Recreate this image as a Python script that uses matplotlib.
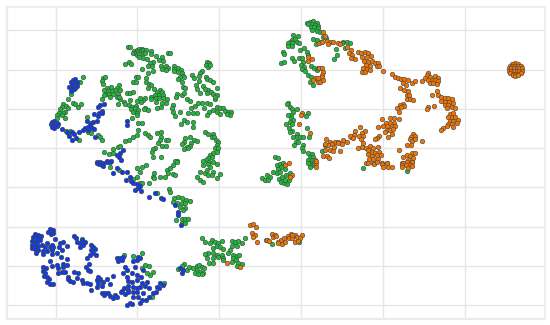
import numpy as np
import matplotlib
matplotlib.use("Agg")
import matplotlib.pyplot as plt

# Values; no axis labels exist, so the unit is arbitrary.
# Each panel list was read in its own window of the plane, given by these origins.
ORIGIN_NW = (0, 0)
ORIGIN_NE = (825, 0)
ORIGIN_SW = (0, 480)
ORIGIN_SE = (825, 480)

xgrid = [167, 412, 658, 904, 1148, 1394]
ygrid = [91, 209, 327, 445, 562, 680, 798, 916]

green_nw = [(383,141),(390,140),(403,152),(410,150),(418,147),(425,147),(400,158),(408,158),(415,155),(422,153),(430,150),(438,150),(452,152),(410,165),(418,162),(428,158),(436,158),(454,162),(467,167),(505,158),(510,158),(416,172),(430,173),(442,176),(485,172),(478,180),(490,183),(376,191),(388,186),(392,192),(458,185),(450,190),(444,197),(455,197),(483,197),(497,197),(503,203),(485,207),(497,209),(427,207),(458,213),(444,219),(521,197),(522,207),(523,214),(535,205),(543,210),(533,217),(545,220),(548,228),(552,232),(540,232),(533,238),(545,245),(548,262),(556,264),(530,282),(527,292),(545,285),(551,280),
(622,186),(627,190),(618,195),(625,200),(630,195),(607,214),(600,220),(577,225),(583,235),(596,228),(618,230),(620,238),(630,240),(640,246),(597,243),(588,254),(592,268),(610,258),(625,270),(614,268),(620,280),(632,275),(640,283),(650,263),(650,284),(646,298),(600,280),(645,290),
(407,230),(414,232),(400,245),(408,247),(437,235),(438,247),(446,252),(452,255),(443,265),(463,267),(480,270),(472,275),(485,275),(488,285),(475,285),(465,285),(468,295),(478,295),(490,295),(500,298),(468,305),(487,310),(497,308),(482,320),(470,325),
(452,290),(452,298),(436,295),(428,300),(422,305),(412,303),(420,295),(380,280),(390,280),(400,277),
(360,298),(372,305),(355,312),(375,312),(390,300),(388,315),(395,320),(408,318),(392,328),(405,325),(415,330),(400,335),(410,340),(395,353),(412,345),(435,325),(432,328),(445,330),(415,368),(427,368),(414,390),(411,405),(398,410),(387,420),(375,422),(353,440),(340,446),(360,437),(340,458),(328,463),(313,457),(435,400),(443,405),(450,410),
(308,235),(315,230),(305,242),(310,252),(320,265),(333,260),(358,256),(352,265),(345,270),(360,270),(335,272),(325,272),(312,270),(318,283),(328,283),(340,282),(355,282),(305,296),(312,285),(350,292),(330,290),(358,292),
(520,314),(517,325),(520,335),(525,348),(540,335),(553,360),(560,365),(578,365),(542,372),(580,380),(565,340),(580,340),(590,340),(574,325),(586,318),(595,308),(607,310),(620,310),(630,313),(612,323),(628,335),(622,345),(640,330),(650,322),(660,325),(650,335),(660,342),(670,325),(675,332),(683,335),(692,337),(690,345),(680,342),(560,297),(570,302),
(484,395),(472,398),(497,420),(483,410),(503,420),(480,420),(475,430),(487,437),(497,438),
(615,397),(623,402),(640,402),(635,410),(642,412),(648,420),(655,425),(650,435),(645,445),(655,445),(650,455),(640,460),(630,465),(625,475),(635,472),(618,480),(610,483),(628,487),(640,485),
(555,415),(570,412),(582,420),(592,422),(552,425),(545,433),(573,428),(560,440),(570,438),(552,448),(565,445),
(465,443),(458,448),(455,455),(460,470),(483,470),(530,483),(525,483),
(250,232),(240,245),(232,250),(225,263),(215,270),(212,283),(203,296),(218,310),(226,312),(235,320),(242,312),(190,312),(197,318),(185,322),(180,328),(205,325),(195,335),(190,340),(178,340),(172,345),(185,345),(195,355),(170,355),
(262,350),(265,395),(272,398),(295,405),(300,412),(305,420),(237,420),(210,392),(197,392),(203,400)]

blue_nw = [(218,240),(225,238),(212,245),(230,245),(222,250),(215,255),(208,262),(215,265),(222,268),(230,258),(212,272),
(300,316),(312,312),(295,320),(305,333),(282,342),(297,340),(305,338),(295,348),(262,362),(280,367),(290,362),(272,368),(270,375),(265,380),(277,383),(255,385),(282,388),(265,390),(248,390),(236,395),(380,362),(380,376),(187,388),(200,395),(215,397),(222,402),(207,408),(215,420),(227,413),(284,410),
(155,365),(163,363),(172,368),(152,372),(160,375),(170,378),(155,382),(163,385),(175,372),
(370,450),(360,458),(352,465),(358,472),(362,480),(300,487),(310,488),(320,483),(333,483),(292,487)]

green_ne = [(95,68),(105,65),(115,62),(125,68),(100,72),(110,72),(120,75),(130,78),(108,80),(118,82),(128,85),(112,90),(125,92),(135,95),(145,110),(153,115),(115,117),(125,120),(122,132),(138,127),
(55,105),(70,108),(50,120),(60,118),(45,125),(38,130),(52,130),(65,125),(72,130),(40,138),(50,138),(75,150),(88,145),(95,155),(25,155),(28,163),(18,188),(27,186),(52,175),(58,182),(72,175),(80,175),(100,165),(85,185),(78,195),(88,200),(108,198),(118,205),(82,208),(90,212),(125,210),(100,225),(108,230),(105,245),(115,255),(128,205),
(205,125),(215,125),(225,130),(210,143),(183,148),(185,165),(178,178),(200,128),
(40,308),(35,312),(45,320),(50,328),(55,335),(65,328),(48,345),(40,345),(100,340),(92,348),(48,355),(55,360),(32,372),(45,365),(52,372),(42,385),(50,392),(45,395),(95,385),(65,403),(55,412),(65,412),(75,410),(85,410),(102,410),(62,425),(70,425),(58,435),(85,435),(82,445),(85,452),(100,458),(110,462),(105,470),(115,470),(100,480),(110,480),(105,490),(0,470),(8,475),
(140,452),(150,435)]

orange_ne = [(145,95),(150,108),(133,128),(140,127),(155,122),(165,125),(175,125),(160,132),(190,128),(195,133),(215,140),(228,150),(222,160),(232,165),(228,175),(240,178),(250,155),(258,158),(270,157),(280,160),(288,167),(262,170),(275,172),(268,182),(278,185),(290,183),(272,195),(285,197),(265,205),(275,207),(285,210),(260,217),(270,215),(300,190),(310,188),(305,198),(312,197),(325,212),
(352,223),(360,230),(368,235),(378,238),(388,238),(400,240),(410,250),(420,242),(442,243),(383,250),(375,265),(392,255),(388,270),(400,272),(395,285),(403,285),(395,298),(405,297),(415,300),(385,312),(375,315),(388,318),(365,325),(378,322),(372,335),
(460,218),(455,225),(465,230),(450,235),(480,228),(490,235),(458,240),(470,240),(480,240),(490,242),(465,248),(475,250),(485,252),
(485,272),(472,285),(490,285),(497,290),(498,303),(510,295),(520,295),(530,298),(510,305),(522,305),(535,310),(510,315),(520,315),(530,320),(540,325),(515,325),(460,322),(455,328),(478,318),
(525,343),(535,340),(520,352),(530,350),(540,352),(548,360),(525,362),(535,362),(520,372),(530,372),(545,370),(535,380),(515,378),(505,385),(498,390),
(322,356),(345,355),(358,355),(373,357),(332,370),(345,368),(358,368),(325,378),(337,378),(350,378),(360,378),(310,382),(335,390),(345,390),(355,388),(330,397),(350,402),(340,412),(312,408),(305,413),(300,417),
(255,380),(270,393),(262,398),(240,392),(252,408),(265,408),(258,418),(238,405),(228,410),(225,408),(235,415),
(153,418),(165,425),(180,425),(190,425),(205,420),(215,425),(200,432),(188,430),(170,432),(160,435),(150,432),(178,440),(165,450),(175,452),(150,450),(195,452),(145,467),(155,467),(163,475),
(415,403),(408,410),(420,408),(405,418),(412,422),(420,418),(395,435),(407,435),(440,422),(373,449),
(265,430),(250,443),(260,440),(272,443),(285,438),(295,445),(310,440),(280,450),(290,455),(300,458),(312,455),(278,462),(290,468),(305,465),(318,465),(283,478),(295,478),(310,478),(272,490),(295,490),(320,490),(335,488),
(410,458),(420,460),(395,465),(405,468),(415,475),(385,472),(400,480),(410,485),(380,488),(390,490),(400,492),
(80,340),(78,345),(72,372),(105,398),(110,178),(100,183),(132,205),(140,205),(145,215),(140,225),(120,235),(130,235),(140,232),(115,240),(128,245),(135,245),(143,240),(100,170),(120,480),(122,488)]

orange_far_cluster = [(721,190),(712,191),(730,191),(704,197),(713,198),(721,198),(729,198),(738,197),(701,205),(709,205),(717,205),(725,205),(733,205),(741,205),(701,213),(709,213),(717,213),(725,213),(733,213),(741,213),(705,220),(713,221),(721,221),(729,221),(737,220),(713,226),(721,227),(729,226)]

green_se = [(5,15),(15,12),(25,10),(18,20),(10,28),(5,38),(15,35),(30,28),(32,45),(45,40),(45,52),(12,58),(20,52),(18,65),(28,70),(35,72),(42,60),(30,60),(100,8),(110,15),(118,10),(105,20),(265,25),(396,32),(72,247)]

orange_se = [(42,8),(30,15),(52,45),(45,50),(122,3),(122,22),(278,8),(298,12),(305,5),(322,12),(335,10),(325,20),(338,22),(352,20),(385,8),(395,5),(410,5),(380,15),(392,15),(405,15),(382,22),(400,25),(410,18),
(2,228),(10,245),(18,240),(28,235),(38,228),(48,222),(60,225),(80,225),(8,250),(20,253),(30,245),(42,235),(52,235),(65,230),(75,235),(60,245),(70,243),(52,225)]

blue_sw = [(105,222),(115,225),(100,232),(110,235),(122,228),(97,243),(105,245),(112,245),(120,240),(95,255),(105,258),(115,258),(125,255),(95,265),(105,268),(115,270),(128,272),(108,280),(130,282),
(150,208),(158,210),(145,215),(160,220),(152,222),(165,238),(142,250),(155,255),(135,262),(150,262),(160,260),(140,272),(155,270),(155,282),(180,250),(190,245),(200,258),(178,262),(185,270),(170,280),(182,290),(150,302),(200,298),(190,312),
(222,228),(228,235),(232,245),(245,240),(255,245),(240,250),(250,255),(240,262),(272,255),(280,260),(285,268),(272,270),(278,280),(270,285),(288,285),(262,295),(268,312),(258,320),(265,330),(270,332),
(130,320),(138,325),(128,332),(135,340),(133,348),(142,352),(148,358),(140,365),(150,372),(158,372),(155,318),
(170,315),(175,325),(190,322),(200,315),(185,335),(195,335),(175,340),(205,350),(210,362),(222,335),(235,340),(220,365),(230,355),(205,358),
(245,360),(250,370),(270,372),(262,368),(272,390),(295,350),(290,360),(300,358),(310,365),(320,358),(330,372),(340,348),(305,378),(290,380),(295,370),
(305,400),(315,398),(325,400),(312,405),(330,408),(345,405),(338,415),(350,412),
(350,293),(360,295),(368,292),(355,302),(365,300),(400,302),(410,300),(420,295),(415,292),
(375,320),(380,330),(370,338),(380,352),(385,362),(395,340),(405,320),(410,345),(422,352),(430,330),
(372,383),(385,378),(395,365),(410,360),(425,368),(440,365),(448,385),(435,378),(420,380),(410,385),(398,380),(385,390),(365,392),(375,402),(385,395),(400,395),(410,395),(430,400),(415,412),(400,412),(425,420),(438,420),(420,428),(390,428),(382,435),(395,432),(448,412),(460,398),(468,395),(478,385),(488,375),(480,368),(470,380),(362,395),
(290,8),(298,12),(305,15),(320,5),(330,5),(338,40),(310,18),(352,25),(365,35),(380,35),(390,50),(378,60),(392,62),(400,70),(410,72),(420,78),(415,85),(422,92),(405,90),(448,110),(465,100),(483,115),(490,118),(525,135),(533,155),(535,165),(543,195),(545,340),(548,330),(540,325)]

green_sw = [(330,20),(357,30),(412,25),(425,22),(438,15),(420,35),(410,52),(400,58),(420,70),(425,70),(447,68),(462,40),(458,50),(462,55),(480,52),(495,52),(500,30),(510,25),(518,15),(530,5),(505,38),(520,42),(525,45),
(610,15),(625,12),(650,12),(630,22),(600,35),(615,40),(625,45),(640,35),(660,42),(652,55),(590,52),(600,60),(608,65),(620,30),(635,45),
(785,55),(800,45),(810,50),(820,35),(795,60),(805,60),
(507,88),(510,95),(522,115),(535,110),(545,115),(558,120),(570,122),(520,125),(530,130),(545,128),(555,130),(540,140),(555,145),(548,150),(535,160),(528,180),(545,178),(555,178),(565,178),(545,188),(555,188),(470,100),
(605,235),(615,247),(635,240),(630,250),(645,245),(655,250),(665,243),(650,258),(660,262),(668,268),(640,265),(625,280),(615,282),(640,280),(650,285),(665,285),(620,295),(640,295),(655,290),(668,295),(695,242),(705,245),(715,242),(735,235),(725,250),(710,258),(695,258),(690,270),(685,280),(700,285),(712,288),(718,285),(700,295),(708,300),(695,305),(670,300),(628,308),(640,308),(715,308),(725,312),(710,318),
(553,313),(545,318),(535,327),(560,330),(568,322),(580,325),(590,318),(598,315),(605,320),(612,325),(590,330),(600,335),(610,338),(585,338),(595,342),(605,342),
(245,237),(372,285),(398,288),(427,280),(435,315),(425,325),(447,318),(458,335),(450,345),(440,340),(492,368),(455,412),(797,240),(817,253)]

orange_sw = [(682,308),(720,320),(750,195),(760,192),(768,200),(755,218),(765,225),(772,245),(758,232),(815,222),(820,232),(800,240),(808,243),(825,225)]


def placed(points, origin):
    return np.asarray(points, dtype=float) + np.asarray(origin, dtype=float)


green = np.vstack([placed(green_nw, ORIGIN_NW), placed(green_ne, ORIGIN_NE),
                   placed(green_sw, ORIGIN_SW), placed(green_se, ORIGIN_SE)])
orange = np.vstack([placed(orange_ne, ORIGIN_NE), placed(orange_far_cluster, ORIGIN_NE),
                    placed(orange_sw, ORIGIN_SW), placed(orange_se, ORIGIN_SE)])
blue = np.vstack([placed(blue_nw, ORIGIN_NW), placed(blue_sw, ORIGIN_SW)])

fig = plt.figure(figsize=(5.5, 3.25), dpi=100)
ax = fig.add_axes([7.2 / 550, 1 - 319.3 / 325, (545.3 - 7.2) / 550, (319.3 - 7.2) / 325])
ax.set_xlim(21.5, 1636)
ax.set_ylim(958, 21.5)
ax.set_xticks(xgrid)
ax.set_yticks(ygrid)
ax.tick_params(length=0, labelbottom=False, labelleft=False)
ax.grid(True, color="#e6e6e6", linewidth=1.0)
ax.set_axisbelow(True)
for side, lw in [("left", 1.6), ("bottom", 1.6), ("top", 1.2), ("right", 1.2)]:
    ax.spines[side].set_color("#ebebeb")
    ax.spines[side].set_linewidth(lw)

style = dict(s=11, edgecolors="#444444", linewidths=0.4, clip_on=False)
ax.scatter(green[:, 0], green[:, 1], c="#1fb83a", **style)
ax.scatter(orange[:, 0], orange[:, 1], c="#f07400", **style)
ax.scatter(blue[:, 0], blue[:, 1], c="#0f3ce6", **style)

fig.savefig("out.png", dpi=100)
